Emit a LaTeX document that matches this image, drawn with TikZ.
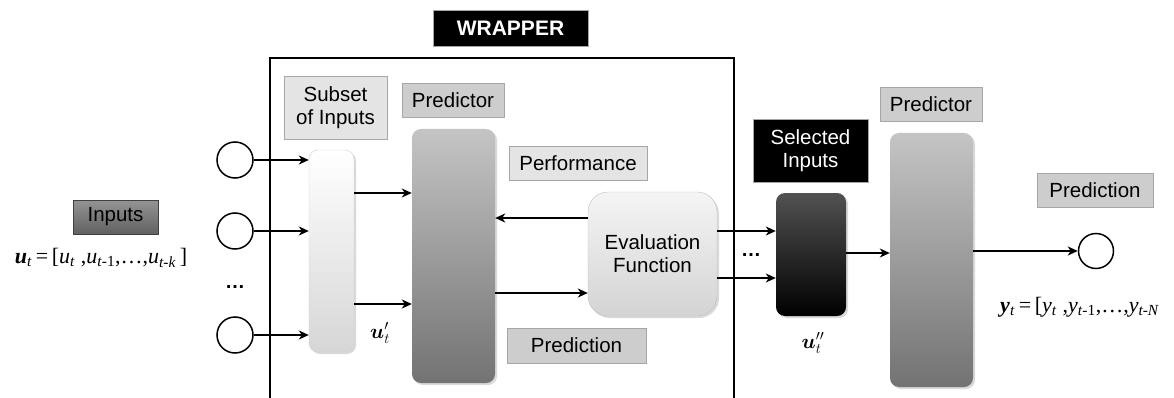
\documentclass[tikz,border=0pt]{standalone}
\usepackage{fontspec}
\setmainfont{Liberation Sans}
\newfontfamily\rmserif{Liberation Serif}
\usepackage{bm}
\usetikzlibrary{arrows.meta,shadows}
\definecolor{edge}{HTML}{A6A6A6}
\definecolor{pale}{HTML}{E4E4E4}
\definecolor{mid}{HTML}{CDCDCD}

\begin{document}
\begin{tikzpicture}[x=1pt,y=-1pt,
 tag/.style={draw=edge,fill=#1,inner sep=0pt,align=center,font=\fontsize{20.5}{23}\selectfont},
 tag/.default=pale,
 bar/.style 2 args={rounded corners=9pt,top color=#1,bottom color=#2,inner sep=0pt,
   drop shadow={opacity=.3,shadow xshift=2pt,shadow yshift=-2pt}},
 io/.style={circle,draw,line width=1.5pt,minimum size=36pt,inner sep=0pt},
 arr/.style={-{Stealth[length=10pt,width=9pt,inset=3pt]},line width=1.5pt},
 eq/.style={font=\rmserif\fontsize{22}{24}\selectfont,inner sep=0pt}]
\useasboundingbox (0,0) rectangle (1174,398);
\draw[line width=1.8pt] (270,400) |- (734,58) -- (734,400);
\node[tag=black,text=white,font=\bfseries\fontsize{21}{24}\selectfont,minimum width=155pt,minimum height=36pt] (wrap) at (510.5,28) {WRAPPER};
\node[tag,minimum width=103pt,minimum height=63pt] (subtag) at (335.5,107.5) {Subset\\of Inputs};
\node[tag=mid,minimum width=102pt,minimum height=34pt] (predtagA) at (453,100) {Predictor};
\node[tag,minimum width=138pt,minimum height=34pt] (perftag) at (578,163) {Performance};
\node[tag=mid,minimum width=139pt,minimum height=35pt] (predictag) at (576.5,345.5) {Prediction};
\node[bar={white}{black!16},draw=black!18,minimum width=45pt,minimum height=202pt] (subbar) at (331.5,251) {};
\node[bar={black!23}{black!55},minimum width=83pt,minimum height=254pt] (predA) at (453.5,256) {};
\node[bar={black!4}{black!17},draw=black!25,rounded corners=20pt,minimum width=129pt,minimum height=124pt,align=center,font=\fontsize{20.5}{23}\selectfont] (evalf) at (652.5,254) {Evaluation\\Function};
\foreach \n/\y in {1/160,2/231,3/335} \node[io] (in\n) at (235,\y) {};
\node[font=\bfseries\fontsize{20}{22}\selectfont] (ldots) at (235,287) {\dots};
\node[tag=black!55,draw=black!75,minimum width=85pt,minimum height=34pt,top color=black!42,bottom color=black!62] (inputs) at (115.5,217) {Inputs};
\node[eq] (uvec) at (101,258) {\textbf{\textit{u}}\textsubscript{\textit{t}}\,=\,[\textit{u}\textsubscript{\textit{t}} ,\textit{u}\textsubscript{\textit{t}-1},\dots,\textit{u}\textsubscript{\textit{t-k}}\,]};
\node[eq,font=\fontsize{22}{24}\selectfont] (uone) at (380,333) {$\bm{u}'_t$};
\node[tag=black,text=white,minimum width=115pt,minimum height=63pt] (seltag) at (810.5,150.5) {Selected\\Inputs};
\node[bar={black!68}{black},minimum width=70pt,minimum height=123pt] (selbar) at (811,254.5) {};
\node[eq,font=\fontsize{22}{24}\selectfont] (utwo) at (813,343) {$\bm{u}''_t$};
\node[font=\bfseries\fontsize{20}{22}\selectfont] (mdots) at (751,255) {\dots};
\node[tag=mid,minimum width=102pt,minimum height=34pt] (predtagB) at (931,104) {Predictor};
\node[bar={black!23}{black!55},minimum width=83pt,minimum height=254pt] (predB) at (931.5,260) {};
\node[io,minimum size=35pt] (out) at (1096,251) {};
\node[tag=mid,minimum width=116pt,minimum height=34pt] (outtag) at (1095,190) {Prediction};
\node[eq,anchor=west] (yvec) at (1000,307) {\textbf{\textit{y}}\textsubscript{\textit{t}}\,=\,[\textit{y}\textsubscript{\textit{t}} ,\textit{y}\textsubscript{\textit{t}-1},\dots,\textit{y}\textsubscript{\textit{t-N}}};
\foreach \n in {1,2,3} \draw[arr] (in\n) -- (in\n -| subbar.west);
\foreach \y in {193,304} \draw[arr] (subbar.east |- 0,\y) -- (predA.west |- 0,\y);
\draw[arr] (evalf.west |- 0,218) -- (predA.east |- 0,218);
\draw[arr] (predA.east |- 0,293) -- (evalf.west |- 0,293);
\foreach \y in {231,278} \draw[arr] (evalf.east |- 0,\y) -- (selbar.west |- 0,\y);
\draw[arr] (selbar.east |- 0,253) -- (predB.west |- 0,253);
\draw[arr] (predB.east |- out) -- (out);
\end{tikzpicture}
\end{document}
